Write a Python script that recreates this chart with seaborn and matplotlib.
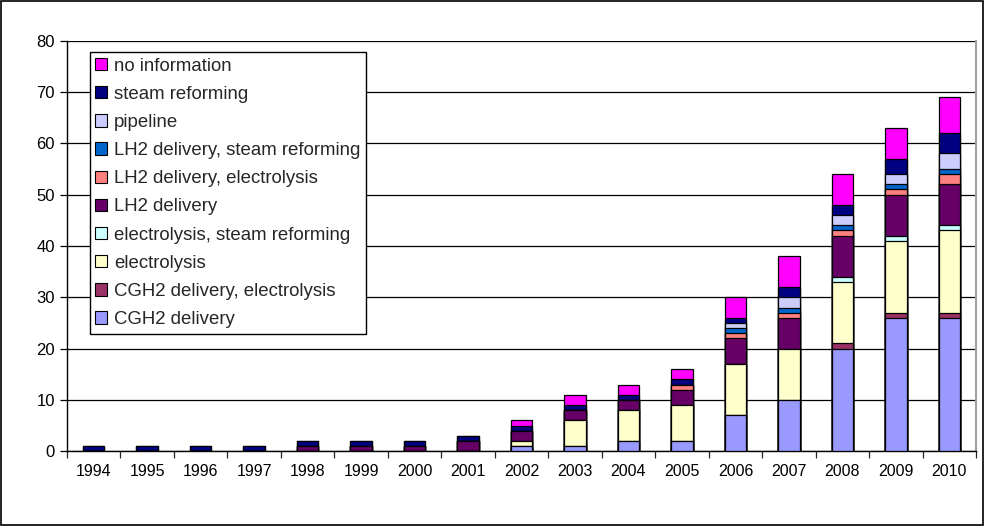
import matplotlib
matplotlib.use("Agg")
import matplotlib.pyplot as plt
from matplotlib.patches import Patch, Rectangle
import numpy as np
import pandas as pd
import seaborn as sns

years = [str(y) for y in range(1994, 2011)]

# Stations per hydrogen supply type, bottom layer first
cgh2_delivery        = [0, 0, 0, 0, 0, 0, 0, 0, 1, 1, 2, 2, 7, 10, 20, 26, 26]
cgh2_electrolysis    = [0, 0, 0, 0, 0, 0, 0, 0, 0, 0, 0, 0, 0, 0, 1, 1, 1]
electrolysis         = [0, 0, 0, 0, 0, 0, 0, 0, 1, 5, 6, 7, 10, 10, 12, 14, 16]
electrolysis_steam   = [0, 0, 0, 0, 0, 0, 0, 0, 0, 0, 0, 0, 0, 0, 1, 1, 1]
lh2_delivery         = [0, 0, 0, 0, 1, 1, 1, 2, 2, 2, 2, 3, 5, 6, 8, 8, 8]
lh2_electrolysis     = [0, 0, 0, 0, 0, 0, 0, 0, 0, 0, 0, 1, 1, 1, 1, 1, 2]
lh2_steam            = [0, 0, 0, 0, 0, 0, 0, 0, 0, 0, 0, 0, 1, 1, 1, 1, 1]
pipeline             = [0, 0, 0, 0, 0, 0, 0, 0, 0, 0, 0, 0, 1, 2, 2, 2, 3]
steam_reforming      = [1, 1, 1, 1, 1, 1, 1, 1, 1, 1, 1, 1, 1, 2, 2, 3, 4]
no_information       = [0, 0, 0, 0, 0, 0, 0, 0, 1, 2, 2, 2, 4, 6, 6, 6, 7]

series_names = [
    "CGH2 delivery",
    "CGH2 delivery, electrolysis",
    "electrolysis",
    "electrolysis, steam reforming",
    "LH2 delivery",
    "LH2 delivery, electrolysis",
    "LH2 delivery, steam reforming",
    "pipeline",
    "steam reforming",
    "no information",
]
series_values = [
    cgh2_delivery, cgh2_electrolysis, electrolysis, electrolysis_steam,
    lh2_delivery, lh2_electrolysis, lh2_steam, pipeline,
    steam_reforming, no_information,
]
series_colors = [
    "#9999FF", "#993366", "#FFFFCC", "#CCFFFF", "#660066",
    "#FF8080", "#0066CC", "#CCCCFF", "#000080", "#FF00FF",
]

df = pd.DataFrame({"year": years})
for name, vals in zip(series_names, series_values):
    df[name] = vals

sns.set_theme(style="white")
plt.rcParams["font.family"] = ["Liberation Sans", "DejaVu Sans"]

fig = plt.figure(figsize=(9.84, 5.26), dpi=100)
ax = fig.add_axes([0.068, 0.142, 0.924, 0.781])

# Stacked bars: draw cumulative totals from the top layer down
cumulative = df[series_names].cumsum(axis=1)
for name, color in reversed(list(zip(series_names, series_colors))):
    sns.barplot(x=df["year"], y=cumulative[name], color=color, width=0.4,
                edgecolor="black", linewidth=0.9, saturation=1, ax=ax,
                zorder=3)

ax.set_ylim(0, 80)
ax.set_xlim(-0.5, len(years) - 0.5)
ax.set_yticks(np.arange(0, 81, 10))
ax.yaxis.grid(True, color="black", linewidth=0.9, zorder=0)
ax.set_axisbelow(True)
ax.set_xlabel("")
ax.set_ylabel("")

ax.tick_params(axis="y", which="major", labelsize=12, length=5, width=0.9,
               direction="out", left=True, colors="black")
ax.tick_params(axis="x", which="major", labelsize=11.5, length=0, pad=9,
               colors="black")
ax.set_xticks(np.arange(-0.5, len(years), 1.0), minor=True)
ax.tick_params(axis="x", which="minor", length=5, width=0.9, direction="out",
               bottom=True)

for side in ("left", "bottom"):
    ax.spines[side].set_color("black")
    ax.spines[side].set_linewidth(1.0)
ax.spines["top"].set_visible(False)
ax.spines["right"].set_color("#A0A0A0")
ax.spines["right"].set_linewidth(1.5)

handles = [Patch(facecolor=c, edgecolor="black", linewidth=0.8)
           for c in series_colors]
leg = ax.legend(handles[::-1], series_names[::-1], loc="upper left",
                bbox_to_anchor=(0.025, 0.972), fontsize=13.4, frameon=True,
                fancybox=False, edgecolor="black", framealpha=1,
                handlelength=0.65, handleheight=0.65, handletextpad=0.35,
                labelspacing=0.6, borderpad=0.3, borderaxespad=0)
leg.get_frame().set_linewidth(1.0)

fig.patches.append(Rectangle((0.001, 0.001), 0.998, 0.997,
                             transform=fig.transFigure, fill=False,
                             edgecolor="black", linewidth=1.2))

fig.savefig("out.png", dpi=100)
